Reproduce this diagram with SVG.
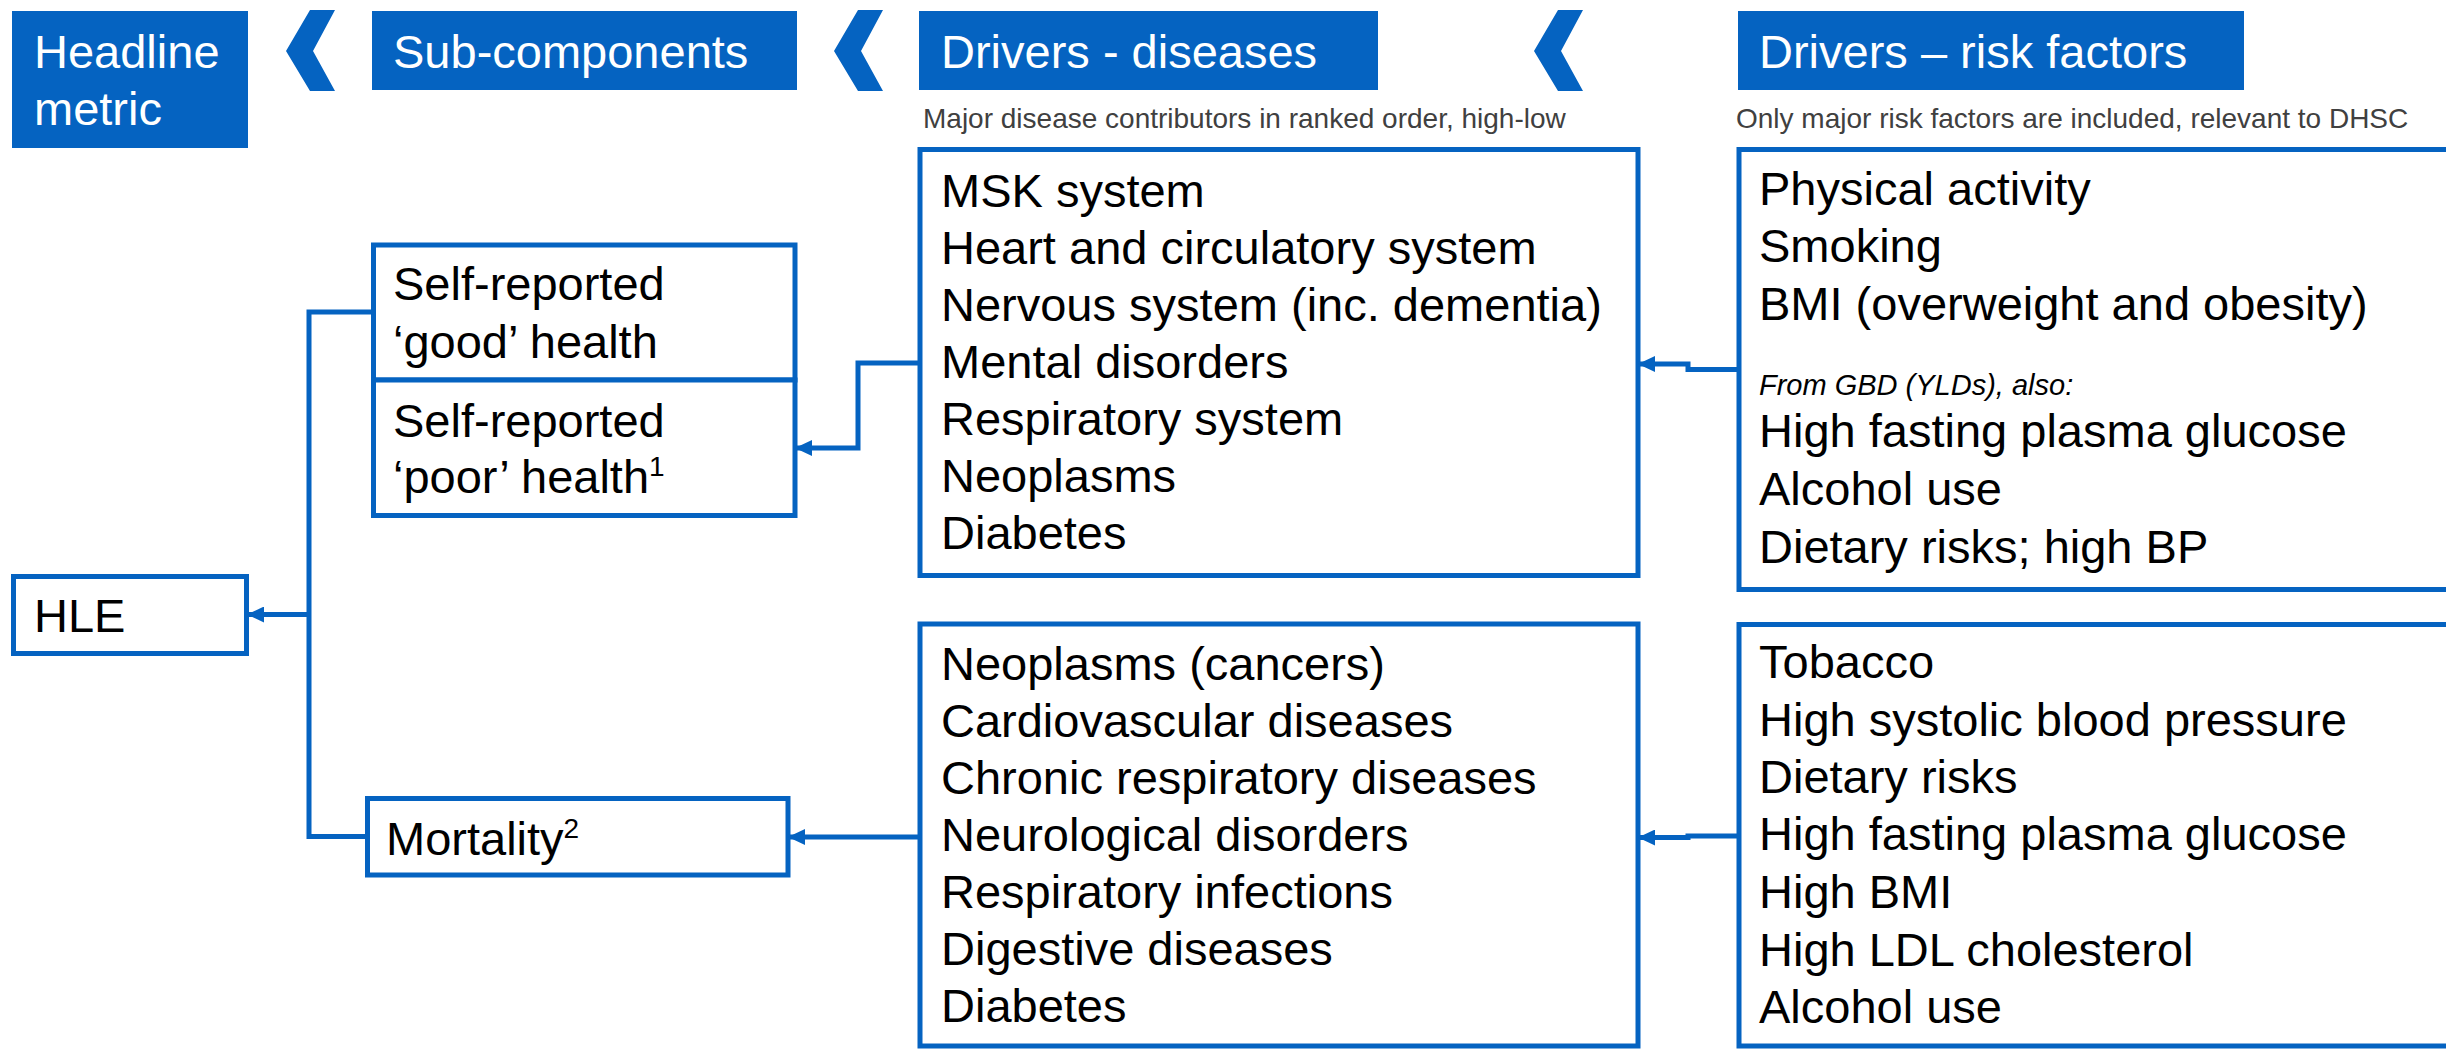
<svg xmlns="http://www.w3.org/2000/svg" width="2446" height="1050" viewBox="0 0 2446 1050">
<defs>
<style>
.hdr{fill:#0563C1}
.hdrt{font-family:"Liberation Sans",Arial,sans-serif;font-size:47px;fill:#ffffff}
.sub{font-family:"Liberation Sans",Arial,sans-serif;font-size:28px;fill:#404040}
.box{fill:#ffffff;stroke:#0563C1;stroke-width:5}
.t{font-family:"Liberation Sans",Arial,sans-serif;font-size:47px;fill:#000000}
.it{font-family:"Liberation Sans",Arial,sans-serif;font-size:29px;font-style:italic;fill:#000000}
.sup{font-size:28px}
.con{fill:none;stroke:#0563C1;stroke-width:5}
</style>
<marker id="arr" markerUnits="userSpaceOnUse" viewBox="0 0 17 16" markerWidth="17" markerHeight="16" refX="17" refY="8" orient="auto">
<path d="M0,0 L17,8 L0,16 Z" fill="#0563C1"/>
</marker>
</defs>

<g id="header-headline">
<rect class="hdr" x="12" y="11" width="236" height="137"/>
<text class="hdrt" x="34" y="68">Headline</text>
<text class="hdrt" x="34" y="125">metric</text>
</g>
<g id="chevron-1"><polygon class="hdr" points="310,10 335,10 313,51 335,91 310,91 286,51"/></g>
<g id="header-subcomponents">
<rect class="hdr" x="372" y="11" width="425" height="79"/>
<text class="hdrt" x="393" y="68">Sub-components</text>
</g>
<g id="chevron-2"><polygon class="hdr" points="858,10 883,10 861,51 883,91 858,91 834,51"/></g>
<g id="header-diseases">
<rect class="hdr" x="919" y="11" width="459" height="79"/>
<text class="hdrt" x="941" y="68">Drivers - diseases</text>
<text class="sub" x="923" y="128">Major disease contributors in ranked order, high-low</text>
</g>
<g id="chevron-3"><polygon class="hdr" points="1558,10 1583,10 1561,51 1583,91 1558,91 1534,51"/></g>
<g id="header-risks">
<rect class="hdr" x="1738" y="11" width="506" height="79"/>
<text class="hdrt" x="1759" y="68">Drivers – risk factors</text>
<text class="sub" x="1736" y="128">Only major risk factors are included, relevant to DHSC</text>
</g>

<g id="node-hle">
<rect class="box" x="13.5" y="576.5" width="233" height="77"/>
<text class="t" x="34" y="632">HLE</text>
</g>
<g id="node-good-health">
<rect class="box" x="373.5" y="245" width="421.5" height="135"/>
<text class="t" x="393" y="300">Self-reported</text>
<text class="t" x="393" y="358">‘good’ health</text>
</g>
<g id="node-poor-health">
<rect class="box" x="373.5" y="380" width="421.5" height="135.5"/>
<text class="t" x="393" y="437">Self-reported</text>
<text class="t" x="393" y="493">‘poor’ health<tspan class="sup" dy="-17">1</tspan></text>
</g>
<g id="node-mortality">
<rect class="box" x="367.5" y="798.5" width="420.5" height="76.5"/>
<text class="t" x="386" y="855">Mortality<tspan class="sup" dy="-17">2</tspan></text>
</g>

<g id="node-diseases-morbidity">
<rect class="box" x="920" y="149.5" width="718" height="426"/>
<text class="t" x="941" y="207">MSK system</text>
<text class="t" x="941" y="264">Heart and circulatory system</text>
<text class="t" x="941" y="321">Nervous system (inc. dementia)</text>
<text class="t" x="941" y="378">Mental disorders</text>
<text class="t" x="941" y="435">Respiratory system</text>
<text class="t" x="941" y="492">Neoplasms</text>
<text class="t" x="941" y="549">Diabetes</text>
</g>
<g id="node-diseases-mortality">
<rect class="box" x="920" y="624" width="718" height="422"/>
<text class="t" x="941" y="680">Neoplasms (cancers)</text>
<text class="t" x="941" y="737">Cardiovascular diseases</text>
<text class="t" x="941" y="794">Chronic respiratory diseases</text>
<text class="t" x="941" y="851">Neurological disorders</text>
<text class="t" x="941" y="908">Respiratory infections</text>
<text class="t" x="941" y="965">Digestive diseases</text>
<text class="t" x="941" y="1022">Diabetes</text>
</g>
<g id="node-risks-morbidity">
<rect class="box" x="1739" y="149.5" width="760" height="440"/>
<text class="t" x="1759" y="205">Physical activity</text>
<text class="t" x="1759" y="262">Smoking</text>
<text class="t" x="1759" y="320">BMI (overweight and obesity)</text>
<text class="it" x="1759" y="395">From GBD (YLDs), also:</text>
<text class="t" x="1759" y="447">High fasting plasma glucose</text>
<text class="t" x="1759" y="505">Alcohol use</text>
<text class="t" x="1759" y="563">Dietary risks; high BP</text>
</g>
<g id="node-risks-mortality">
<rect class="box" x="1739" y="624.5" width="760" height="421.5"/>
<text class="t" x="1759" y="678">Tobacco</text>
<text class="t" x="1759" y="736">High systolic blood pressure</text>
<text class="t" x="1759" y="793">Dietary risks</text>
<text class="t" x="1759" y="850">High fasting plasma glucose</text>
<text class="t" x="1759" y="908">High BMI</text>
<text class="t" x="1759" y="966">High LDL cholesterol</text>
<text class="t" x="1759" y="1023">Alcohol use</text>
</g>

<g id="connectors">
<path class="con" d="M373,312 H309 V836.5 H367"/>
<path class="con" d="M309,614.5 H247" marker-end="url(#arr)"/>
<path class="con" d="M920,363 H858 V448 H795" marker-end="url(#arr)"/>
<path class="con" d="M1739,369.5 H1688 V364 H1638" marker-end="url(#arr)"/>
<path class="con" d="M1739,836 H1688 V837.5 H1638" marker-end="url(#arr)"/>
<path class="con" d="M920,837 H788" marker-end="url(#arr)"/>
</g>
</svg>
